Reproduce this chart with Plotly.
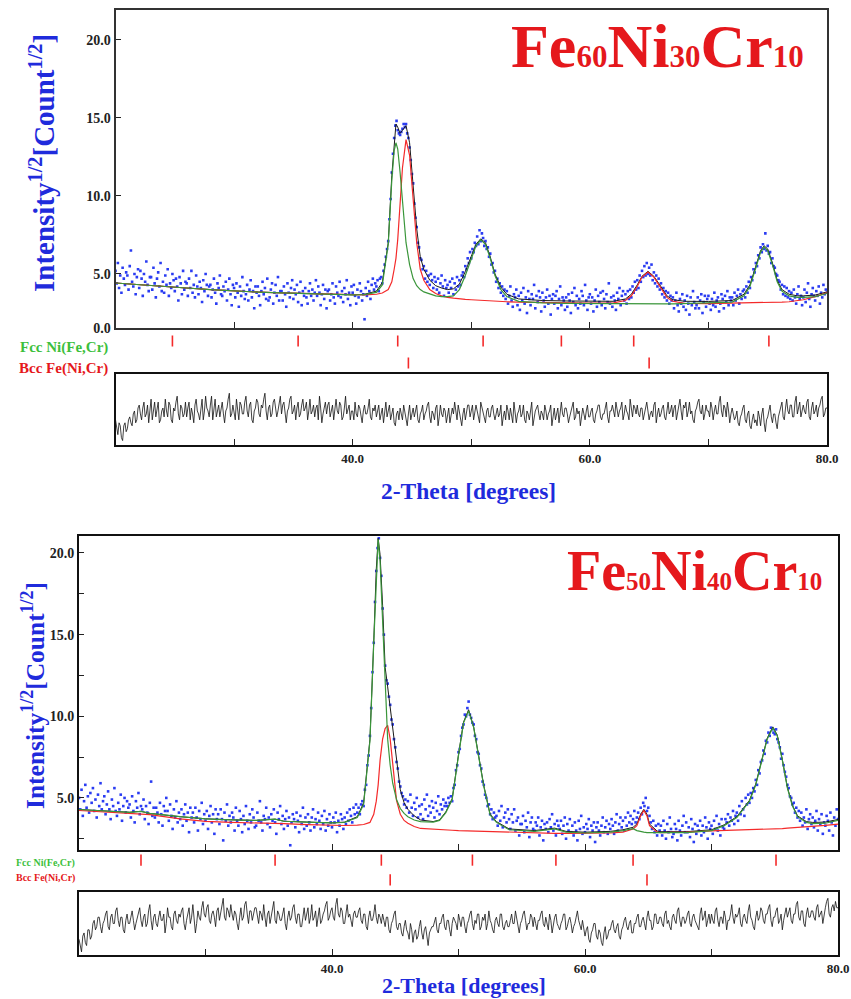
import plotly.graph_objects as go

W, H = 851, 999

# ---------------- data ----------------
TWO_THETA_START = 20.0
OBS_STEP = 0.1
DIFF_STEP = 0.1

# Fe60Ni30Cr10: observed sqrt-intensity (in tenths), 20.0..80.0 step 0.1
top_obs_tenths = [
52,44,57,41,49,38,54,47,43,51,
49,40,55,65,45,42,50,37,48,53,
41,52,47,36,50,45,58,43,39,48,
48,40,54,44,35,47,51,42,57,39,
45,38,49,43,53,36,44,41,50,46,
39,47,42,33,48,44,37,52,40,45,
44,36,47,41,52,38,43,35,49,42,
37,45,41,32,46,39,50,43,36,42,
43,35,40,47,38,31,44,41,49,37,
36,42,39,45,33,40,47,37,30,43,
41,35,44,38,29,42,36,48,39,34,
37,43,33,40,46,35,39,28,42,38,
42,36,30,39,45,37,41,34,47,33,
35,40,44,31,38,43,36,48,33,39,
39,33,42,37,29,44,38,35,41,46,
34,40,37,43,32,38,45,30,39,36,
41,35,31,39,44,36,40,33,38,46,
36,42,38,30,37,43,34,40,28,39,
40,33,37,44,35,31,42,38,36,45,
35,39,32,41,37,46,34,38,30,42,
38,43,36,31,40,35,44,39,33,37,
21,41,36,45,39,34,43,47,40,44,
42,46,39,47,48,44,52,56,61,66,
71,85,98,115,127,137,145,148,142,140,
139,141,143,146,144,146,140,137,131,123,
114,108,95,86,80,70,67,60,59,53,
55,47,52,45,49,43,50,46,41,48,
45,40,47,38,44,49,42,36,46,41,
43,38,45,41,47,37,44,40,48,42,
46,43,49,51,48,55,53,60,57,64,
60,66,64,70,68,74,69,78,71,76,
73,68,71,66,67,61,63,56,57,51,
52,45,47,41,44,38,42,36,40,34,
39,31,36,42,33,29,37,35,40,30,
36,27,38,33,41,31,35,25,39,34,
30,37,34,43,28,36,32,39,35,26,
38,33,29,35,40,31,36,24,34,37,
31,36,39,28,34,42,30,35,33,27,
35,29,37,33,25,38,32,41,30,36,
28,34,31,39,36,30,43,33,27,35,
37,31,35,26,33,40,29,36,32,38,
30,39,34,28,37,32,44,31,35,29,
36,33,27,38,34,41,30,36,39,33,
37,31,39,34,40,35,42,38,45,40,
46,41,49,45,52,48,55,49,57,50,
54,49,56,46,51,44,49,42,47,40,
44,37,41,35,39,33,38,31,36,33,
35,28,33,38,30,26,34,31,37,29,
33,27,36,31,24,35,30,39,32,28,
30,35,28,33,37,25,32,36,29,34,
36,31,27,34,30,38,29,33,35,26,
31,37,34,28,36,32,39,30,35,33,
35,30,38,33,36,40,31,37,34,39,
40,35,42,38,45,41,48,46,53,51,
57,55,62,60,67,64,69,66,76,65,
68,63,64,57,60,55,54,50,49,46,
45,40,43,37,42,36,41,35,39,34,
38,33,40,35,31,37,42,34,36,30,
35,40,32,38,44,34,29,37,41,36,
33,39,36,42,31,38,35,43,37,40,
38]

# difference curve (obs - calc), 20.0..80.0 step 0.1
top_diff = [
-2,-5,-7,-3,-4,-8,-9,-4,-3,-6,-5,-2,-1,-3,-4,0,1,-3,-2,2,
3,0,-2,2,4,-1,0,3,-3,1,5,-2,1,4,-1,2,4,-3,-2,1,
2,-1,5,1,-1,4,3,-2,-3,2,1,4,6,0,-2,3,2,-1,0,4,
-1,2,4,-2,2,0,-3,3,5,1,0,-2,3,5,-2,1,6,2,1,-1,
3,6,-2,1,5,-1,1,3,-1,2,4,0,-3,1,2,5,7,-1,0,3,
1,-2,5,2,-2,4,3,0,0,4,6,1,-1,3,4,-2,-3,1,2,5,
4,0,-1,3,2,5,7,1,-2,2,3,-1,0,4,5,2,-1,1,3,6,
0,3,4,-1,-3,1,2,5,6,0,1,3,-2,2,4,-1,0,3,5,1,
2,4,-2,1,5,0,1,3,-1,2,3,-2,6,2,-3,0,2,4,0,3,
4,-1,1,3,-2,2,5,1,0,4,3,-2,-1,2,6,0,2,3,-2,1,
1,-2,4,0,-1,3,2,-1,-3,1,3,0,0,2,5,-1,-2,2,1,3,
-1,1,3,-2,0,2,-3,1,4,-1,1,3,-2,0,2,-3,-4,0,1,-2,
2,0,-2,3,1,-1,-4,0,3,-2,0,2,-1,1,3,-2,-3,0,1,3,
-2,0,1,3,4,-1,-3,1,0,-2,2,3,-4,-1,3,0,-1,2,1,-3,
0,2,-3,-1,2,0,4,1,-2,3,1,-1,-4,0,2,-2,0,3,3,-1,
1,3,-2,0,3,1,-1,-3,4,2,0,-2,-3,1,2,-1,-1,2,3,0,
-2,0,2,-1,0,3,-4,-1,1,-2,3,1,-2,2,0,-3,4,1,-3,0,
1,3,-1,0,3,-2,-3,1,0,-2,2,4,-4,-1,1,2,3,0,-2,1,
0,-2,3,1,-2,0,1,3,-4,-1,2,-2,0,2,-3,1,4,0,-1,2,
2,0,-3,-1,1,3,4,-2,-1,2,0,1,-4,-1,2,0,-2,1,3,-1,
-1,1,2,-2,-3,0,1,3,3,-1,-2,0,0,2,4,-1,-3,1,1,3,
1,-1,4,2,-1,1,2,4,-2,0,3,1,0,-2,5,2,-1,3,2,0,
3,0,-1,2,2,-2,0,3,4,1,-2,0,1,-1,3,4,-3,0,2,-1,
0,2,3,-1,-2,1,4,0,1,3,-1,2,3,-2,0,2,5,1,-2,3,
2,4,-1,1,4,0,1,-2,-3,1,2,4,5,1,0,3,-2,0,3,1,
1,-1,4,2,-2,1,3,0,0,4,6,1,-1,3,2,-1,4,1,-3,0,
2,0,-2,-1,1,-3,-4,-1,0,2,3,-2,-3,0,1,-4,-5,-2,0,-3,
-2,-4,1,-1,-4,0,2,-3,-6,-2,-1,1,3,-1,-3,0,0,-3,-5,-1,
1,3,4,-1,-2,2,5,1,0,3,3,-1,-1,4,6,0,2,4,-1,1,
3,1,0,4,5,-1,-2,2,4,0,1,3,-1,2,3,5,6,-1,0,2,
2]

top_curve_x = [20, 22, 24, 26, 28, 30, 32, 34, 36, 38, 40, 41, 42, 42.5, 43,
               43.3, 43.5, 43.65, 43.8, 44.0, 44.2, 44.5, 44.8, 45.1, 45.4,
               45.7, 46.0, 46.5, 47, 47.5, 48, 48.5, 49, 49.5, 50,
               50.4, 50.8, 51.2, 51.6, 52, 52.5, 53, 54, 56, 58,
               60, 62, 63, 63.5, 64, 64.4, 64.9, 65.4, 65.9, 66.5,
               67, 68, 70, 72, 73, 73.5, 74, 74.4, 74.7, 75.0,
               75.4, 75.8, 76.2, 76.8, 77.5, 78, 79, 80]
top_fcc_curve = [4.42, 4.30, 4.20, 4.10, 4.00, 3.90, 3.84, 3.79, 3.74, 3.70, 3.66, 3.68, 3.82, 4.3, 6.9,
                 11.0, 12.9, 13.4, 13.0, 11.5, 9.6, 7.0, 5.6, 4.7, 4.25,
                 4.0, 3.85, 3.7, 3.6, 3.55, 3.55, 3.6, 4.0, 4.9, 6.0,
                 6.8, 7.18, 6.9, 6.0, 4.9, 4.0, 3.55, 3.25, 3.15, 3.12,
                 3.1, 3.1, 3.1, 3.1, 3.08, 3.08, 3.08, 3.08, 3.08, 3.08,
                 3.08, 3.1, 3.12, 3.2, 3.6, 4.2, 5.4, 6.4, 6.73, 6.5,
                 5.6, 4.5, 3.9, 3.6, 3.5, 3.5, 3.55, 3.75]
top_bcc_curve = [4.42, 4.30, 4.20, 4.10, 4.00, 3.90, 3.84, 3.79, 3.74, 3.70, 3.66, 3.66, 3.70, 3.78, 4.0,
                 4.5, 5.3, 6.0, 7.2, 9.4, 11.8, 13.6, 12.6, 9.8, 7.0,
                 5.3, 4.6, 4.0, 3.75, 3.6, 3.5, 3.45, 3.4, 3.37, 3.35,
                 3.33, 3.3, 3.28, 3.26, 3.25, 3.23, 3.22, 3.2, 3.17, 3.15,
                 3.13, 3.15, 3.3, 3.6, 4.2, 4.8, 5.13, 4.8, 4.2, 3.5,
                 3.25, 3.12, 3.1, 3.12, 3.13, 3.14, 3.15, 3.15, 3.16, 3.16,
                 3.17, 3.18, 3.2, 3.22, 3.28, 3.35, 3.55, 3.8]
top_calc_curve = [4.42, 4.30, 4.20, 4.10, 4.00, 3.90, 3.84, 3.79, 3.74, 3.70, 3.66, 3.70, 3.90, 4.45, 7.0,
                  11.3, 13.5, 14.6, 14.4, 14.0, 14.2, 14.5, 13.4, 10.7, 7.9,
                  6.1, 5.3, 4.6, 4.25, 4.1, 4.0, 4.05, 4.35, 5.15, 6.2,
                  6.9, 7.25, 7.0, 6.1, 5.0, 4.15, 3.7, 3.4, 3.3, 3.27,
                  3.25, 3.25, 3.4, 3.7, 4.3, 4.85, 5.17, 4.85, 4.3, 3.6,
                  3.35, 3.25, 3.24, 3.3, 3.7, 4.3, 5.5, 6.5, 6.8, 6.6,
                  5.7, 4.6, 4.0, 3.7, 3.6, 3.6, 3.65, 3.85]
top_fcc_reflections = [24.8, 35.4, 43.8, 51.0, 57.6, 63.7, 75.1]
top_bcc_reflections = [44.7, 65.0]

# Fe50Ni40Cr10
bot_obs_tenths = [
50,43,55,39,48,58,44,51,41,53,
47,56,42,49,38,52,45,59,43,48,
51,40,46,54,43,37,49,45,56,42,
39,47,43,52,36,45,50,41,48,44,
46,38,51,42,35,48,44,53,40,45,
43,49,37,45,41,34,47,60,39,44,
38,44,41,35,47,40,33,45,42,50,
42,36,46,39,31,43,38,48,35,41,
37,43,33,40,46,36,41,29,44,38,
41,35,44,38,30,42,37,47,34,40,
36,42,31,39,45,35,40,28,43,37,
40,34,43,37,24,41,36,46,33,39,
35,41,38,30,44,36,33,42,37,29,
39,34,45,36,31,40,35,43,38,32,
33,41,36,48,35,30,39,37,44,34,
38,32,40,36,43,35,28,41,37,45,
34,39,31,37,42,33,38,21,35,40,
37,32,41,36,29,39,34,44,31,38,
33,40,35,30,38,43,32,37,34,41,
36,31,39,34,42,30,37,33,40,35,
32,38,35,41,29,36,33,40,37,31,
38,34,41,36,43,39,35,44,40,46,
41,44,40,46,48,45,55,58,70,76,
88,105,127,145,170,189,203,209,197,186,
166,150,131,122,120,112,107,98,95,86,
81,72,68,60,57,53,51,46,49,44,
48,41,52,44,39,47,43,50,38,45,
40,46,37,49,43,52,39,45,41,48,
44,38,47,42,51,40,46,43,49,45,
47,45,50,47,51,48,56,58,67,70,
78,80,88,93,95,101,100,105,109,101,
99,96,95,88,86,78,77,70,68,60,
58,52,50,45,46,40,43,37,41,38,
39,33,42,36,45,32,38,41,35,43,
37,31,40,35,43,30,36,38,27,34,
34,39,29,36,32,41,26,35,38,31,
30,35,33,38,27,32,36,24,34,31,
35,29,37,32,40,30,34,27,36,33,
31,36,28,33,38,25,34,30,37,29,
33,27,35,30,24,36,31,39,28,32,
29,34,31,37,26,33,30,35,23,32,
35,30,27,33,38,29,32,36,28,34,
31,37,33,28,35,40,30,34,38,32,
36,30,38,33,41,35,39,34,37,42,
35,38,41,37,44,40,47,45,50,42,
44,39,35,31,36,29,33,27,34,30,
33,27,36,30,25,34,29,38,31,26,
28,34,31,24,36,30,27,33,39,29,
35,29,32,26,37,31,23,34,28,33,
30,36,27,33,29,38,32,25,35,31,
33,28,36,31,39,30,34,27,37,32,
31,37,35,40,33,38,36,42,34,39,
41,36,45,40,48,43,39,50,46,52,
47,53,50,56,54,61,58,67,65,72,
73,79,77,85,84,90,88,93,92,90,
89,92,86,84,81,74,77,70,66,63,
58,56,51,50,46,47,41,44,38,42,
36,41,33,38,35,43,31,37,40,34,
38,32,36,42,30,37,34,40,28,35,
33,39,36,30,41,35,27,38,33,43,
37]

bot_diff = [
-5,-7,-9,-4,-3,-6,-7,-2,-2,-5,-4,0,1,-2,-1,2,2,-1,-3,0,
1,3,4,-1,-2,2,3,0,0,4,5,1,-1,2,2,-2,-3,1,3,0,
0,2,4,1,-2,0,2,4,5,1,-1,2,3,-1,0,4,6,1,-2,2,
3,0,-1,2,4,1,1,3,-3,0,5,2,2,-1,-2,3,4,1,0,3,
2,4,5,0,-2,1,3,5,0,2,6,1,-3,0,4,2,1,5,7,3,
2,5,6,1,0,3,4,2,-1,4,5,1,3,6,8,2,1,5,4,2,
6,3,1,4,3,0,-2,2,5,1,2,6,7,3,0,4,4,1,3,5,
5,2,0,4,3,1,6,2,-1,3,4,0,2,5,7,1,0,4,3,1,
1,3,5,0,-2,2,4,1,2,5,6,2,0,3,3,-1,-1,2,5,1,
3,5,0,2,6,1,2,4,-1,3,5,0,1,3,4,6,7,1,2,4,
5,2,1,6,8,3,2,5,4,0,0,3,6,2,3,1,-1,3,4,2,
2,4,5,1,0,3,3,-1,-2,2,4,1,1,3,6,2,0,3,2,0,
3,1,-1,2,2,-2,-3,0,1,3,4,-1,-2,0,0,-3,-4,-1,1,-2,
-3,-5,0,-2,-6,-3,-2,-5,-4,-1,1,-3,-5,-2,-1,-4,-7,-3,-2,-1,
-1,1,2,-2,-3,0,0,2,3,-1,-2,1,1,-2,-4,0,2,1,0,-2,
3,1,-1,2,2,-1,-3,0,1,3,4,0,-2,1,0,3,3,-2,-1,2,
1,3,-2,0,4,1,0,-2,-3,1,2,0,-1,3,3,-1,-2,0,1,-1,
-1,1,3,0,0,4,2,-1,-3,0,1,3,4,1,-2,0,0,3,2,-1,
2,0,-2,1,1,3,4,0,-1,2,0,-2,3,1,-3,0,2,3,0,-1,
-2,0,1,3,3,-2,-1,1,2,0,-3,-1,0,2,4,1,-1,-2,1,-1,
-4,-2,-1,-5,-6,-3,-2,0,0,-4,-5,-2,-3,-6,-7,-3,-1,-5,-4,-2,
-2,0,1,-2,-3,-1,0,-4,-5,-2,-1,1,2,-1,-2,0,1,-3,-3,0,
0,2,3,-1,-1,1,2,0,-2,2,4,1,1,-2,-1,3,3,0,0,2,
2,0,-1,3,4,0,1,-1,-2,2,3,1,0,4,5,1,-1,2,2,0,
1,3,4,0,-1,2,3,1,0,-1,-2,3,5,1,2,4,-1,1,3,0,
3,1,0,4,5,1,-1,2,2,0,4,2,-2,1,1,3,6,2,0,3,
2,3,5,0,-1,2,3,1,0,4,6,2,1,-1,-2,2,4,1,2,5,
4,1,0,3,3,5,6,1,-1,2,2,4,5,0,1,3,-2,1,3,5,
2,4,5,1,0,3,3,6,7,2,1,4,4,0,-1,3,5,2,2,4,
4,2,1,5,6,2,3,4,0,3,5,7,8,3,2,5,6,4,7,5,
5]

bot_curve_x = [20, 22, 24, 24.9, 25.6, 28, 30, 32, 34, 35.5,
               36.2, 38, 40, 41, 42, 42.5, 43, 43.3, 43.5, 43.65,
               43.8, 44.0, 44.2, 44.4, 44.6, 44.8, 45.1, 45.4, 45.7, 46.0,
               46.5, 47, 48, 48.5, 49, 49.5, 50, 50.4, 50.8, 51.2,
               51.6, 52, 52.5, 53, 54, 56, 57.6, 58.5, 60, 62,
               63, 63.8, 64.1, 64.4, 64.65, 64.9, 65.1, 65.7, 66, 68,
               70, 71, 72, 73, 73.5, 74, 74.4, 74.85, 75.2, 75.6,
               76, 76.4, 76.8, 77.5, 78, 79, 80]
bot_fcc_curve = [4.29, 4.20, 4.12, 4.18, 4.05, 3.85, 3.72, 3.66, 3.62, 3.70,
                 3.57, 3.52, 3.47, 3.50, 3.80, 4.60, 8.5, 14.5, 18.8, 20.84,
                 19.5, 16.0, 11.6, 8.6, 7.0, 5.9, 4.9, 4.35, 4.05, 3.85,
                 3.65, 3.55, 3.52, 3.62, 4.1, 4.9, 7.6, 9.6, 10.33, 9.3,
                 7.5, 5.7, 3.95, 3.5, 3.05, 2.95, 3.10, 2.9, 2.85, 2.9,
                 3.0, 3.12, 3.0, 2.92, 2.9, 2.88, 2.88, 2.87, 2.87, 2.88,
                 3.0, 3.3, 3.8, 4.8, 5.8, 7.4, 8.6, 9.3, 8.8, 7.3,
                 5.6, 4.5, 3.85, 3.5, 3.43, 3.45, 3.62]
bot_bcc_curve = [4.23, 4.15, 4.07, 4.02, 3.98, 3.72, 3.56, 3.5, 3.47, 3.44,
                 3.42, 3.36, 3.31, 3.31, 3.33, 3.37, 3.5, 4.0, 4.8, 5.8,
                 7.3, 8.6, 9.25, 9.45, 8.6, 7.0, 4.85, 4.0, 3.62, 3.45,
                 3.25, 3.13, 3.07, 3.05, 3.03, 3.02, 3.0, 2.99, 2.98, 2.97,
                 2.96, 2.93, 2.92, 2.9, 2.88, 2.85, 2.83, 2.83, 2.82, 2.85,
                 2.9, 3.1, 3.3, 3.9, 4.23, 3.9, 3.3, 2.9, 2.87, 2.9,
                 2.98, 3.0, 3.04, 3.06, 3.07, 3.08, 3.09, 3.1, 3.11, 3.12,
                 3.15, 3.17, 3.19, 3.22, 3.25, 3.32, 3.4]
bot_calc_curve = [4.29, 4.20, 4.12, 4.18, 4.05, 3.85, 3.72, 3.66, 3.62, 3.70,
                  3.57, 3.52, 3.47, 3.52, 3.85, 4.7, 8.6, 14.6, 19.0, 20.9,
                  19.9, 16.8, 13.0, 11.8, 10.6, 9.4, 7.3, 5.5, 4.7, 4.3,
                  3.9, 3.65, 3.55, 3.65, 4.15, 4.95, 7.65, 9.65, 10.4, 9.35,
                  7.55, 5.75, 4.0, 3.55, 3.1, 3.0, 3.15, 2.95, 2.9, 2.95,
                  3.05, 3.2, 3.4, 4.0, 4.3, 4.0, 3.4, 2.97, 2.93, 2.93,
                  3.05, 3.35, 3.85, 4.85, 5.85, 7.45, 8.65, 9.35, 8.85, 7.35,
                  5.65, 4.55, 3.9, 3.55, 3.5, 3.52, 3.68]
bot_fcc_reflections = [24.9, 35.5, 43.9, 51.1, 57.7, 63.8, 75.1]
bot_bcc_reflections = [44.6, 64.9]

x_tick_vals = [30, 40, 50, 60, 70, 80]
x_tick_text = ["", "40.0", "", "60.0", "", "80.0"]
top_y_tick_vals = [5, 10, 15, 20]
top_y_tick_text = ["5.0", "10.0", "15.0", "20.0"]
bot_y_tick_vals = [2.5, 5, 7.5, 10, 12.5, 15, 17.5, 20]
bot_y_tick_text = ["", "5.0", "", "10.0", "", "15.0", "", "20.0"]

# ---------------- styling ----------------
SERIF = "Liberation Serif, Times New Roman, serif"
BLUE_DOT = "#2a3cf2"
BLUE_TXT = "#1f2bdc"
GREEN = "#3a963a"
RED = "#f42a2a"
RED_TXT = "#e5181c"
GREEN_TXT = "#3cbf3c"


def fx(p):
    return p / W


def fy(p):
    return 1 - p / H


fig = go.Figure()
layout = dict(width=W, height=H, margin=dict(l=0, r=0, t=0, b=0, autoexpand=False),
              paper_bgcolor="white", plot_bgcolor="white", showlegend=False)
annotations = []


def axis_common(**kw):
    d = dict(range=[20, 80], showgrid=False, zeroline=False, automargin=False)
    d.update(kw)
    return d


def add_panel(idx0, obs_tenths, diff, cx, fcc_c, bcc_c, calc_c, fcc_ref, bcc_ref,
              box, yrange, ytv, ytt, diff_range, frame_color, tick_size, ymin_label):
    left, right, main_top, main_bot, tick_top, tick_bot, res_top, res_bot = box
    xm, xt, xr = idx0, idx0 + 1, idx0 + 2
    xdom = [fx(left), fx(right)]

    def nm(prefix, i):
        return prefix if i == 1 else f"{prefix}{i}"

    obs_x = [round(TWO_THETA_START + i * OBS_STEP, 2) for i in range(len(obs_tenths))]
    obs_y = [v / 10 for v in obs_tenths]
    diff_x = [round(TWO_THETA_START + i * DIFF_STEP, 2) for i in range(len(diff))]

    xa, ya = nm("x", xm), nm("y", xm)
    fig.add_trace(go.Scatter(x=obs_x, y=obs_y, mode="markers", xaxis=xa, yaxis=ya,
                             marker=dict(symbol="square", size=2.6, color=BLUE_DOT,
                                         line=dict(width=0))))
    fig.add_trace(go.Scatter(x=cx, y=calc_c, mode="lines", xaxis=xa, yaxis=ya,
                             line=dict(color="#1a1a1a", width=1)))
    fig.add_trace(go.Scatter(x=cx, y=bcc_c, mode="lines", xaxis=xa, yaxis=ya,
                             line=dict(color=RED, width=1.2)))
    fig.add_trace(go.Scatter(x=cx, y=fcc_c, mode="lines", xaxis=xa, yaxis=ya,
                             line=dict(color=GREEN, width=1.2)))

    tvals = list(ytv)
    ttext = list(ytt)
    if ymin_label:
        tvals = [yrange[0] + 0.01] + tvals
        ttext = [ymin_label] + ttext
    layout[nm("xaxis", xm)] = axis_common(
        domain=xdom, anchor=ya, showline=True, mirror=True, linecolor=frame_color,
        linewidth=2, ticks="inside", ticklen=6, tickwidth=1.3, tickcolor="#222",
        tickvals=x_tick_vals[:-1], showticklabels=False)
    layout[nm("yaxis", xm)] = dict(
        domain=[fy(main_bot), fy(main_top)], anchor=xa, range=yrange, automargin=False,
        showgrid=False, zeroline=False, showline=True, mirror=True,
        linecolor=frame_color, linewidth=2, ticks="inside", ticklen=5,
        tickwidth=1.3, tickcolor="#222", tickvals=tvals, ticktext=ttext,
        tickfont=dict(family=SERIF, size=tick_size, color="#222", weight="bold"))

    # reflection markers row
    xa2, ya2 = nm("x", xt), nm("y", xt)
    fcc_row, bcc_row = 1.55, 0.45
    for refs, row in ((fcc_ref, fcc_row), (bcc_ref, bcc_row)):
        fig.add_trace(go.Scatter(x=refs, y=[row] * len(refs), mode="markers",
                                 xaxis=xa2, yaxis=ya2,
                                 marker=dict(symbol="line-ns-open", size=8, color=RED,
                                             line=dict(color=RED, width=1.6))))
    layout[nm("xaxis", xt)] = axis_common(domain=xdom, anchor=ya2, visible=False)
    layout[nm("yaxis", xt)] = dict(domain=[fy(tick_bot), fy(tick_top)], anchor=xa2,
                                   range=[0, 2], visible=False, automargin=False)

    # difference panel
    xa3, ya3 = nm("x", xr), nm("y", xr)
    fig.add_trace(go.Scatter(x=diff_x, y=diff, mode="lines", xaxis=xa3, yaxis=ya3,
                             line=dict(color="#111111", width=0.8)))
    layout[nm("xaxis", xr)] = axis_common(
        domain=xdom, anchor=ya3, showline=True, mirror=True, linecolor="#111",
        linewidth=2, ticks="inside", ticklen=6, tickwidth=1.3, tickcolor="#222",
        tickvals=x_tick_vals, ticktext=x_tick_text,
        tickfont=dict(family=SERIF, size=13, color="#222", weight="bold"))
    layout[nm("yaxis", xr)] = dict(domain=[fy(res_bot), fy(res_top)], anchor=xa3,
                                   range=diff_range, showgrid=False, zeroline=False,
                                   showline=True, mirror=True, linecolor="#111",
                                   linewidth=1.5, ticks="", showticklabels=False,
                                   automargin=False)


# box: left, right, main_top, main_bot, tick_top, tick_bot, res_top, res_bot
add_panel(1, top_obs_tenths, top_diff, top_curve_x, top_fcc_curve, top_bcc_curve,
          top_calc_curve, top_fcc_reflections, top_bcc_reflections,
          (115.5, 827, 10, 328, 332, 372, 374, 445), [1.54, 21.9],
          top_y_tick_vals, top_y_tick_text, [-10.5, 13.5], "#333333", 14, "0.0")
add_panel(4, bot_obs_tenths, bot_diff, bot_curve_x, bot_fcc_curve, bot_bcc_curve,
          bot_calc_curve, bot_fcc_reflections, bot_bcc_reflections,
          (79, 838, 536, 850, 852, 888, 892, 955), [1.81, 21.04],
          bot_y_tick_vals, bot_y_tick_text, [-10, 10], "#111111", 14, None)

ytitle = "Intensity<sup>1/2</sup>[Count<sup>1/2</sup>]"
xtitle = "2-Theta [degrees]"


def ann(text, x, y, size, color, xanchor="center", **kw):
    d = dict(text=text, x=fx(x), y=fy(y), xref="paper", yref="paper", showarrow=False,
             xanchor=xanchor, yanchor="middle",
             font=dict(family=SERIF, size=size, color=color, weight="bold"))
    d.update(kw)
    annotations.append(d)


ann(ytitle, 42, 163, 29, BLUE_TXT, textangle=-90)
ann(ytitle, 33, 696, 25.5, BLUE_TXT, textangle=-90)
ann(xtitle, 468, 491, 23.5, BLUE_TXT)
ann(xtitle, 464, 985, 22, BLUE_TXT)

sub_top = "<span style='font-size:31px'>{}</span>"
sub_bot = "<span style='font-size:25px'>{}</span>"
ann("Fe" + sub_top.format("60") + "Ni" + sub_top.format("30") + "Cr" + sub_top.format("10"),
    806, 46, 62, RED_TXT, xanchor="right")
ann("Fe" + sub_bot.format("50") + "Ni" + sub_bot.format("40") + "Cr" + sub_bot.format("10"),
    824, 571, 56, RED_TXT, xanchor="right")

ann("Fcc Ni(Fe,Cr)", 110, 348, 15, GREEN_TXT, xanchor="right")
ann("Bcc Fe(Ni,Cr)", 110, 368, 15, RED_TXT, xanchor="right")
ann("Fcc Ni(Fe,Cr)", 77, 863, 10, GREEN_TXT, xanchor="right")
ann("Bcc Fe(Ni,Cr)", 77, 878, 10, RED_TXT, xanchor="right")

layout["annotations"] = annotations
fig.update_layout(**layout)
fig.write_html("out.html", config={"displayModeBar": False},
               post_script="document.body.style.margin='0';document.body.style.overflow='hidden';")
